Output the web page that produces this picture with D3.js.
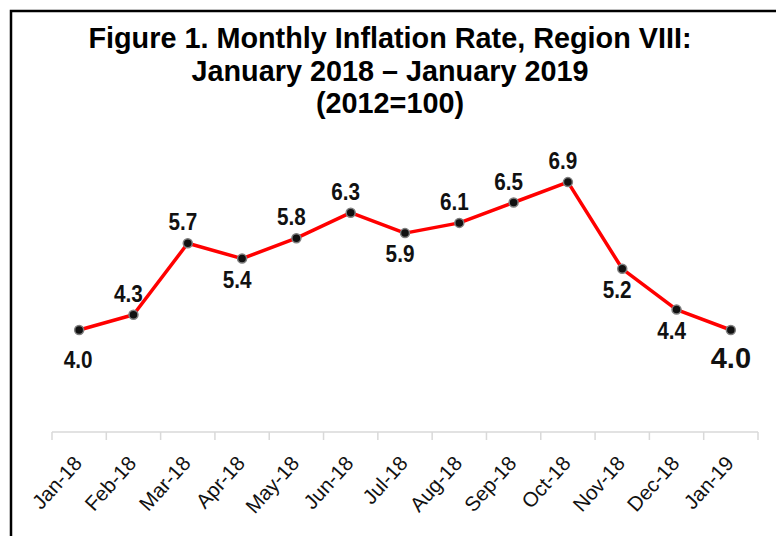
<!DOCTYPE html>
<html>
<head>
<meta charset="utf-8">
<script src="https://cdn.jsdelivr.net/npm/d3@7"></script>
<style>
  body { margin: 0; background: #fff; }
  svg { display: block; }
  .bold { font-family: "Liberation Sans", Arial, sans-serif; font-weight: bold; }
  .tick-label { font-family: "Liberation Sans", Arial, sans-serif; font-size: 20.5px; fill: #111; }
</style>
</head>
<body>
<div id="chart"></div>
<script>
// data
const months = ['Jan-18', 'Feb-18', 'Mar-18', 'Apr-18', 'May-18', 'Jun-18', 'Jul-18',
  'Aug-18', 'Sep-18', 'Oct-18', 'Nov-18', 'Dec-18', 'Jan-19']
const rates = [4.0, 4.3, 5.7, 5.4, 5.8, 6.3, 5.9, 6.1, 6.5, 6.9, 5.2, 4.4, 4.0]
const labelSide = ['below', 'above', 'above', 'below', 'above', 'above', 'below',
  'above', 'above', 'above', 'below', 'below', 'below']
const titleLines = ['Figure 1. Monthly Inflation Rate, Region VIII:', 'January 2018 \u2013 January 2019', '(2012=100)']

const width = 776
const height = 536

const svg = d3.select('#chart').append('svg')
  .attr('width', width)
  .attr('height', height)

// frame (top + left edges visible)
svg.append('path')
  .attr('d', `M11,${height} L11,11 L${width},11`)
  .attr('fill', 'none')
  .attr('stroke', '#000')
  .attr('stroke-width', 2.5)

// title
svg.append('g').selectAll('text')
  .data(titleLines)
  .enter().append('text')
  .attr('class', 'bold')
  .attr('x', 390)
  .attr('y', (d, i) => 48 + i * 32.5)
  .attr('text-anchor', 'middle')
  .attr('font-size', 28.8)
  .attr('fill', '#000')
  .text(d => d)

const x = d3.scaleBand().domain(months).range([52, 758]).padding(0)
const y = d3.scaleLinear().domain([2, 8]).range([432, 126])
const cx = d => x(d) + x.bandwidth() / 2

// axis line with ticks at band boundaries
const axis = svg.append('g')
axis.append('line')
  .attr('x1', x.range()[0]).attr('x2', x.range()[1])
  .attr('y1', y(2)).attr('y2', y(2))
  .attr('stroke', '#d9d9d9').attr('stroke-width', 1.5)
axis.selectAll('.tk')
  .data(months.map(m => x(m)).concat([x.range()[1]]))
  .enter().append('line')
  .attr('class', 'tk')
  .attr('x1', d => d).attr('x2', d => d)
  .attr('y1', y(2)).attr('y2', y(2) + 8)
  .attr('stroke', '#d9d9d9').attr('stroke-width', 1.5)
axis.selectAll('.tick-label')
  .data(months)
  .enter().append('text')
  .attr('class', 'tick-label')
  .attr('text-anchor', 'end')
  .attr('transform', d => `translate(${cx(d) + 4},${y(2) + 32}) rotate(-48)`)
  .text(d => d)

// line
const pts = months.map((m, i) => ({ m: m, v: rates[i], side: labelSide[i], i: i }))
svg.append('path')
  .datum(pts)
  .attr('fill', 'none')
  .attr('stroke', '#ff0000')
  .attr('stroke-width', 3.5)
  .attr('stroke-linejoin', 'round')
  .attr('d', d3.line().x(d => cx(d.m)).y(d => y(d.v)))

// markers
svg.append('g').selectAll('circle')
  .data(pts)
  .enter().append('circle')
  .attr('cx', d => cx(d.m))
  .attr('cy', d => y(d.v))
  .attr('r', 4.5)
  .attr('fill', '#111')
  .attr('stroke', '#7f7f7f')
  .attr('stroke-width', 1.5)

// data labels
const last = pts.length - 1
svg.append('g').selectAll('text')
  .data(pts)
  .enter().append('text')
  .attr('class', 'bold')
  .attr('text-anchor', 'middle')
  .attr('font-size', d => d.i === last ? 29 : 23)
  .attr('fill', '#111')
  .attr('transform', d => {
    let lx = cx(d.m) + (d.i === last ? 0 : d.i === 0 ? -1 : -5)
    let ly
    if (d.side === 'above') ly = y(d.v) - 13
    else if (d.i === 0 || d.i === last) ly = y(d.v) + 38
    else ly = y(d.v) + 29
    return `translate(${lx},${ly}) scale(${d.i === last ? 1 : 0.9},1)`
  })
  .text(d => d.v.toFixed(1))
</script>
</body>
</html>
